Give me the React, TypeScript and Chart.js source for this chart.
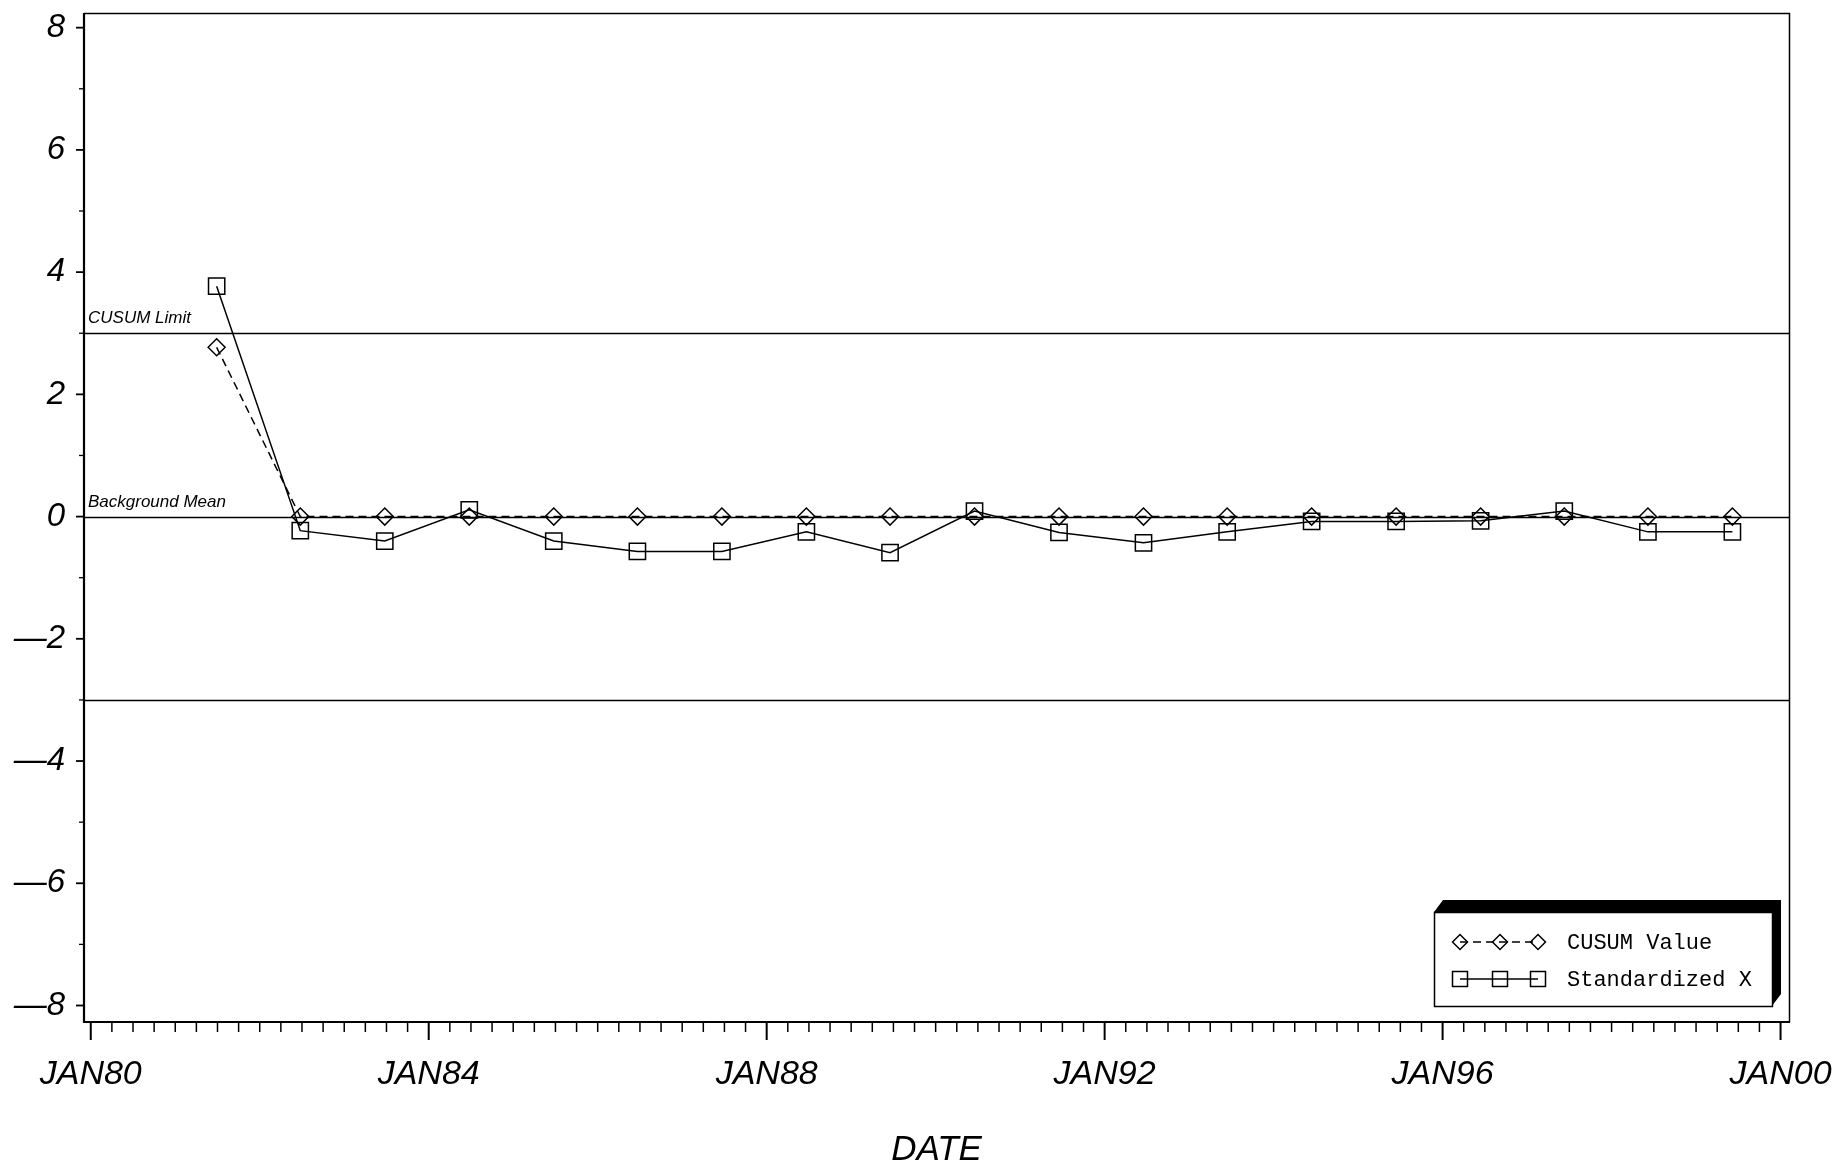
import React, { useEffect, useRef } from 'react';
import { Chart, registerables } from 'chart.js';

Chart.register(...registerables);

// ---- data ----
const years = [
  1981.49, 1982.48, 1983.48, 1984.48, 1985.48, 1986.47, 1987.47, 1988.47, 1989.46, 1990.46,
  1991.46, 1992.46, 1993.45, 1994.45, 1995.45, 1996.45, 1997.44, 1998.43, 1999.43,
];
const cusumValues = [2.77, 0, 0, 0, 0, 0, 0, 0, 0, 0, 0, 0, 0, 0, 0, 0, 0, 0, 0];
const standardizedX = [
  3.77, -0.23, -0.4, 0.11, -0.4, -0.57, -0.57, -0.25, -0.59, 0.09,
  -0.26, -0.43, -0.25, -0.08, -0.08, -0.07, 0.09, -0.25, -0.25,
];
const seriesNames = ['CUSUM Value', 'Standardized X'];
const xTickYears = [1980, 1984, 1988, 1992, 1996, 2000];
const xTickLabels = ['JAN80', 'JAN84', 'JAN88', 'JAN92', 'JAN96', 'JAN00'];
const yTicks = [-8, -6, -4, -2, 0, 2, 4, 6, 8];
const yMinorTicks = [-7, -5, -3, -1, 1, 3, 5, 7];
const refLines = [3, 0, -3];
const refLabels = ['CUSUM Limit', 'Background Mean', ''];

const SANS = "'Liberation Sans', Arial, Helvetica, sans-serif";
const MONO = "'Liberation Mono', 'DejaVu Sans Mono', monospace";

const overlay = {
  id: 'overlay',
  beforeDatasetsDraw(chart: any) {
    const { ctx, chartArea, scales } = chart;
    const { left, right } = chartArea;
    const y = scales.y;
    ctx.save();
    ctx.strokeStyle = '#000';
    ctx.lineWidth = 1.5;
    ctx.setLineDash([]);
    refLines.forEach((v, i) => {
      const py = Math.round(y.getPixelForValue(v)) + 0.5;
      ctx.beginPath();
      ctx.moveTo(left, py);
      ctx.lineTo(right, py);
      ctx.stroke();
      if (refLabels[i]) {
        ctx.fillStyle = '#000';
        ctx.font = `italic 17px ${SANS}`;
        ctx.textAlign = 'left';
        ctx.textBaseline = 'alphabetic';
        ctx.fillText(refLabels[i], left + 4, py - 11);
      }
    });
    ctx.restore();
  },
  afterDraw(chart: any) {
    const { ctx, chartArea, scales } = chart;
    const { left, right, top, bottom } = chartArea;
    const x = scales.x;
    const y = scales.y;
    ctx.save();
    ctx.strokeStyle = '#000';
    ctx.setLineDash([]);
    // frame: thin top/right
    ctx.lineWidth = 1.5;
    ctx.beginPath();
    ctx.moveTo(left, top + 0.5);
    ctx.lineTo(right + 0.5, top + 0.5);
    ctx.lineTo(right + 0.5, bottom);
    ctx.stroke();
    // thick left/bottom axes
    ctx.lineWidth = 2.2;
    ctx.beginPath();
    ctx.moveTo(left, top);
    ctx.lineTo(left, bottom);
    ctx.lineTo(right + 1, bottom);
    ctx.stroke();

    // y ticks
    ctx.lineWidth = 1.8;
    yTicks.forEach((v) => {
      const py = y.getPixelForValue(v);
      ctx.beginPath();
      ctx.moveTo(left - 8, py);
      ctx.lineTo(left, py);
      ctx.stroke();
    });
    ctx.lineWidth = 1.3;
    yMinorTicks.forEach((v) => {
      const py = y.getPixelForValue(v);
      ctx.beginPath();
      ctx.moveTo(left - 5, py);
      ctx.lineTo(left, py);
      ctx.stroke();
    });
    // x ticks: major yearly labels, minor quarterly
    const first = xTickYears[0];
    const last = xTickYears[xTickYears.length - 1];
    for (let q = 0; q <= (last - first) * 4; q++) {
      const v = first + q / 4;
      const px = x.getPixelForValue(v);
      const major = xTickYears.includes(v);
      ctx.lineWidth = major ? 2 : 1.5;
      ctx.beginPath();
      ctx.moveTo(px, bottom);
      ctx.lineTo(px, bottom + (major ? 18 : 10));
      ctx.stroke();
    }

    // legend with 3D shadow
    const bl = right - 355;
    const br = right - 17;
    const bt = bottom - 110;
    const bb = bottom - 16;
    const dx = 9;
    const dy = 12;
    ctx.fillStyle = '#000';
    ctx.beginPath();
    ctx.moveTo(bl, bt);
    ctx.lineTo(bl + dx, bt - dy);
    ctx.lineTo(br + dx, bt - dy);
    ctx.lineTo(br + dx, bb - dy);
    ctx.lineTo(br, bb);
    ctx.lineTo(br, bt);
    ctx.closePath();
    ctx.fill();
    ctx.fillStyle = '#fff';
    ctx.fillRect(bl, bt, br - bl, bb - bt);
    ctx.lineWidth = 1.5;
    ctx.strokeStyle = '#000';
    ctx.strokeRect(bl + 0.5, bt + 0.5, br - bl, bb - bt);

    const mx = [bl + 26, bl + 66, bl + 104];
    const rows = [bt + 30, bt + 67];
    rows.forEach((ry, r) => {
      ctx.lineWidth = 1.5;
      ctx.setLineDash(r === 0 ? [8, 5] : []);
      ctx.beginPath();
      ctx.moveTo(mx[0], ry);
      ctx.lineTo(mx[2], ry);
      ctx.stroke();
      ctx.setLineDash([]);
      mx.forEach((cx) => {
        ctx.beginPath();
        if (r === 0) {
          const s = 7.5;
          ctx.moveTo(cx - s, ry);
          ctx.lineTo(cx, ry - s);
          ctx.lineTo(cx + s, ry);
          ctx.lineTo(cx, ry + s);
          ctx.closePath();
        } else {
          const s = 7.5;
          ctx.rect(cx - s, ry - s, 2 * s, 2 * s);
        }
        ctx.stroke();
      });
      ctx.fillStyle = '#000';
      ctx.font = `22px ${MONO}`;
      ctx.textAlign = 'left';
      ctx.textBaseline = 'middle';
      ctx.fillText(seriesNames[r], bl + 133, ry + 1);
    });
    ctx.restore();
  },
};

export default function App() {
  const canvasRef = useRef<HTMLCanvasElement | null>(null);

  useEffect(() => {
    document.body.style.margin = '0';
    document.body.style.overflow = 'hidden';
    const canvas = canvasRef.current;
    if (!canvas) return;
    const tickFont = { family: SANS, size: 33, style: 'italic' as const, weight: 'normal' as const };
    const chart = new Chart(canvas, {
      type: 'line',
      data: {
        datasets: [
          {
            label: seriesNames[0],
            data: years.map((xv, i) => ({ x: xv, y: cusumValues[i] })),
            borderColor: '#000',
            borderWidth: 1.5,
            borderDash: [8, 5],
            pointStyle: 'rectRot',
            pointRadius: 8.5,
            pointBorderWidth: 1.5,
            pointBorderColor: '#000',
            pointBackgroundColor: 'rgba(0,0,0,0)',
            fill: false,
            tension: 0,
          },
          {
            label: seriesNames[1],
            data: years.map((xv, i) => ({ x: xv, y: standardizedX[i] })),
            borderColor: '#000',
            borderWidth: 1.5,
            pointStyle: 'rect',
            pointRadius: 11.5,
            pointBorderWidth: 1.5,
            pointBorderColor: '#000',
            pointBackgroundColor: 'rgba(0,0,0,0)',
            fill: false,
            tension: 0,
          },
        ],
      },
      options: {
        animation: false,
        responsive: false,
        maintainAspectRatio: false,
        layout: { padding: { top: 9, right: 50, left: 0, bottom: 0 } },
        plugins: { legend: { display: false }, tooltip: { enabled: false } },
        scales: {
          x: {
            type: 'linear',
            min: 1979.92,
            max: 2000.1,
            grid: { display: false, drawTicks: false },
            border: { display: false },
            afterBuildTicks: (s: any) => {
              s.ticks = xTickYears.map((v) => ({ value: v }));
            },
            afterFit: (s: any) => {
              s.height = 151;
              s.paddingLeft = 0;
              s.paddingRight = 0;
              s.paddingTop = 0;
              s.paddingBottom = 0;
            },
            ticks: {
              autoSkip: false,
              maxRotation: 0,
              minRotation: 0,
              padding: 32,
              color: '#000',
              font: { ...tickFont, size: 34 },
              callback: (v: any) => {
                const i = xTickYears.indexOf(Number(v));
                return i >= 0 ? xTickLabels[i] : '';
              },
            },
            title: {
              display: true,
              text: 'DATE',
              color: '#000',
              font: { ...tickFont, size: 35 },
              padding: { top: 0, bottom: 2 },
            },
          },
          y: {
            min: -8.27,
            max: 8.24,
            grid: { display: false, drawTicks: false },
            border: { display: false },
            afterBuildTicks: (s: any) => {
              s.ticks = yTicks.map((v) => ({ value: v }));
            },
            afterFit: (s: any) => {
              s.width = 84;
              s.paddingLeft = 0;
              s.paddingRight = 0;
              s.paddingTop = 0;
              s.paddingBottom = 0;
            },
            ticks: {
              autoSkip: false,
              padding: 19,
              color: '#000',
              font: tickFont,
              callback: (v: any) => {
                const n = Number(v);
                return n < 0 ? '\u2014' + Math.abs(n) : String(n);
              },
            },
          },
        },
      },
      plugins: [overlay],
    });
    return () => chart.destroy();
  }, []);

  return <canvas ref={canvasRef} width={1839} height={1173} style={{ display: 'block' }} />;
}
